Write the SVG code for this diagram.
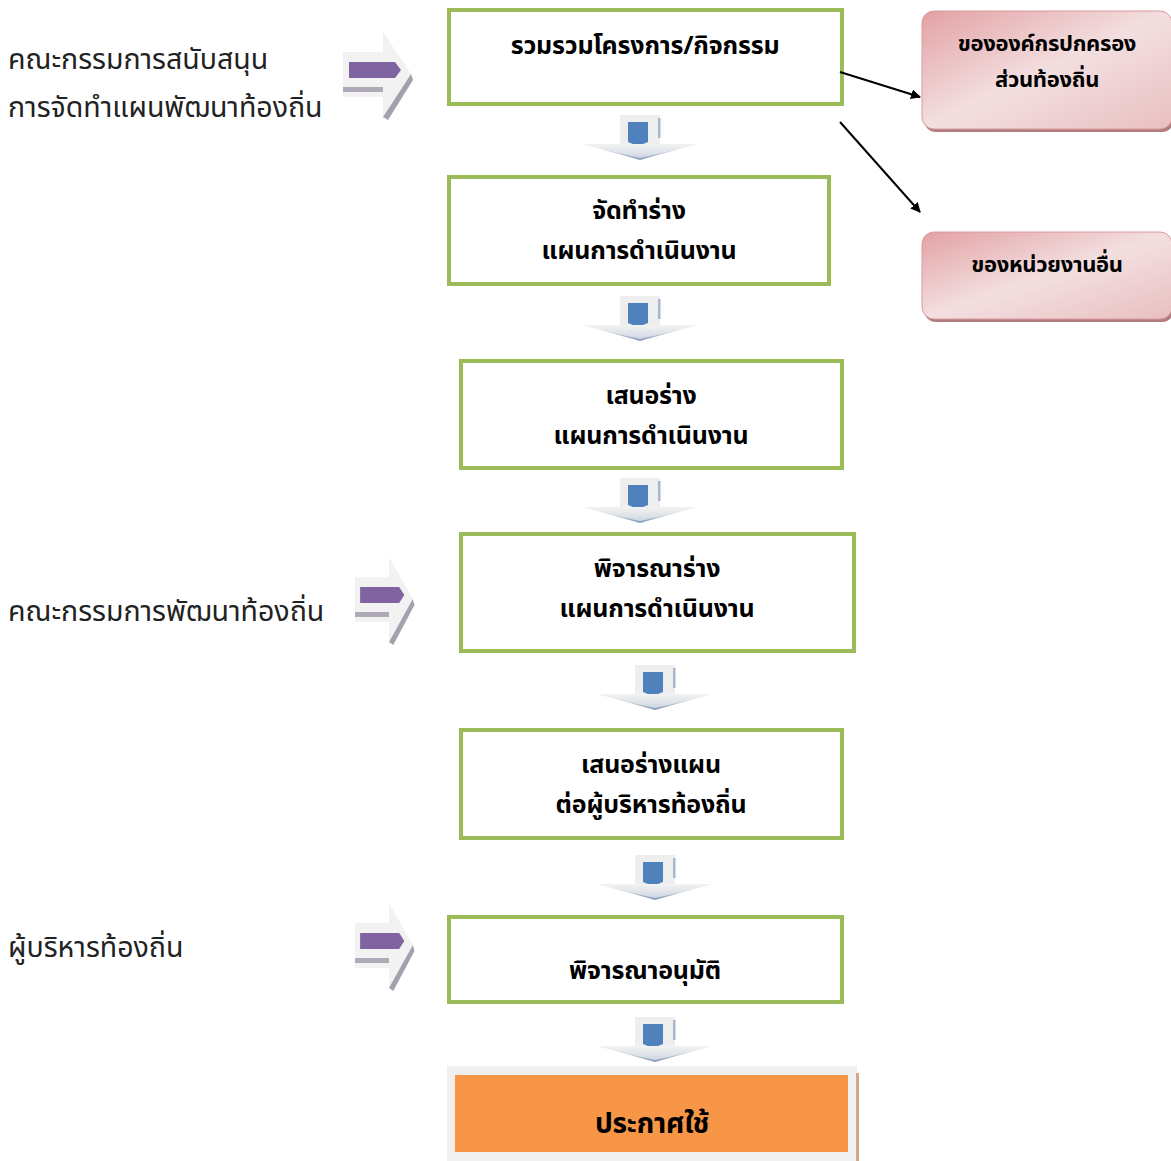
<svg xmlns="http://www.w3.org/2000/svg" width="1171" height="1161" viewBox="0 0 1171 1161">
<defs>
<style>
.box{fill:#fff;stroke:#9BBB59;stroke-width:4}
.bt{font-family:"Noto Sans Thai","Noto Sans","Liberation Sans",sans-serif;font-size:25px;font-weight:bold;fill:#000;text-anchor:middle;letter-spacing:-0.2px}
.lt{font-family:"Noto Sans Thai","Noto Sans","Liberation Sans",sans-serif;font-size:28.5px;fill:#222}
.pt{font-family:"Noto Sans Thai","Noto Sans","Liberation Sans",sans-serif;font-size:22px;font-weight:bold;fill:#000;text-anchor:middle;letter-spacing:-0.3px}
.con{stroke:#000;stroke-width:2;fill:none}
</style>
<linearGradient id="pink" x1="0" y1="0" x2="1" y2="1">
<stop offset="0" stop-color="#e3a1a4"/><stop offset="0.5" stop-color="#f3dfe0"/><stop offset="1" stop-color="#e9bfc1"/>
</linearGradient>
<linearGradient id="chev" x1="0" y1="0" x2="0" y2="1">
<stop offset="0" stop-color="#f2f2f2"/><stop offset="0.6" stop-color="#b8c4d6"/><stop offset="1" stop-color="#8195b3"/>
</linearGradient>
<marker id="ah" markerWidth="10" markerHeight="10" refX="9" refY="5" orient="auto" markerUnits="userSpaceOnUse">
<path d="M0,0 L10,5 L0,10 z" fill="#000"/>
</marker>
<g id="down">
<rect x="-20" y="-3" width="40" height="30" fill="#eeeeee"/>
<rect x="18" y="0" width="2.5" height="20" fill="#a9b7cb"/>
<path d="M-12,4 L8,4 L8,24 L-2,28 L-12,24 z" fill="#4f81bd"/>
<path d="M-57,26 L57,26 L0,42 z" fill="url(#chev)"/>
<path d="M-57,26 L57,26 L53,28 L0,40 L-53,28 z" fill="#f4f4f4" opacity="0.6"/>
</g>
<g id="side">
<path d="M0,20 L40,20 L40,0 L68,42 L40,85 L40,65 L0,65 z" fill="#f2f2f2"/>
<path d="M40,85 L68,42 L70,48 L45,88 z" fill="#a6a0ad"/>
<rect x="0" y="55" width="40" height="5" fill="#b0aab8"/>
<path d="M6,30 L52,30 L58,38 L52,46 L6,46 z" fill="#8064a2"/>
</g>
</defs>
<rect width="1171" height="1161" fill="#fff"/>

<g id="left-labels">
<text class="lt" x="8" y="69">คณะกรรมการสนับสนุน</text>
<text class="lt" x="8" y="117">การจัดทำแผนพัฒนาท้องถิ่น</text>
<text class="lt" x="8" y="621">คณะกรรมการพัฒนาท้องถิ่น</text>
<text class="lt" x="8" y="957">ผู้บริหารท้องถิ่น</text>
</g>

<g id="side-arrows">
<use href="#side" x="343" y="32"/>
<use href="#side" transform="translate(355,557) scale(0.85,1)"/>
<use href="#side" transform="translate(355,903) scale(0.85,1)"/>
</g>

<g id="down-arrows">
<use href="#down" x="640" y="118"/>
<use href="#down" x="640" y="299"/>
<use href="#down" x="640" y="481"/>
<use href="#down" x="655" y="668"/>
<use href="#down" x="655" y="858"/>
<use href="#down" x="655" y="1020"/>
</g>

<g id="n1"><rect class="box" x="449" y="10" width="393" height="94"/><text class="bt" x="645" y="54">รวมรวมโครงการ/กิจกรรม</text></g>
<g id="n2"><rect class="box" x="449" y="177" width="380" height="107"/><text class="bt" x="639" y="219">จัดทำร่าง</text><text class="bt" x="639" y="259">แผนการดำเนินงาน</text></g>
<g id="n3"><rect class="box" x="461" y="361" width="381" height="107"/><text class="bt" x="651" y="404">เสนอร่าง</text><text class="bt" x="651" y="444">แผนการดำเนินงาน</text></g>
<g id="n4"><rect class="box" x="461" y="534" width="393" height="117"/><text class="bt" x="657" y="577">พิจารณาร่าง</text><text class="bt" x="657" y="617">แผนการดำเนินงาน</text></g>
<g id="n5"><rect class="box" x="461" y="730" width="381" height="108"/><text class="bt" x="651" y="773">เสนอร่างแผน</text><text class="bt" x="651" y="813">ต่อผู้บริหารท้องถิ่น</text></g>
<g id="n6"><rect class="box" x="449" y="917" width="393" height="85"/><text class="bt" x="645" y="979">พิจารณาอนุมัติ</text></g>
<g id="n7">
<rect x="447" y="1066" width="410" height="95" fill="#f0f0f0"/>
<rect x="856" y="1073" width="3" height="88" fill="#d4a98a"/>
<rect x="455" y="1075" width="393" height="77" fill="#f79646"/>
<text class="bt" x="652" y="1133" style="font-size:28px">ประกาศใช้</text>
</g>

<g id="p1">
<rect x="924" y="14" width="250" height="118" rx="12" fill="#b07c80"/>
<rect x="922" y="11" width="250" height="118" rx="12" fill="url(#pink)" stroke="#d99a9e" stroke-width="1"/>
<text class="pt" x="1047" y="51">ขององค์กรปกครอง</text>
<text class="pt" x="1047" y="87">ส่วนท้องถิ่น</text>
</g>
<g id="p2">
<rect x="924" y="235" width="250" height="87" rx="12" fill="#b07c80"/>
<rect x="922" y="232" width="250" height="87" rx="12" fill="url(#pink)" stroke="#d99a9e" stroke-width="1"/>
<text class="pt" x="1047" y="272">ของหน่วยงานอื่น</text>
</g>

<g id="connectors">
<line class="con" x1="840" y1="72" x2="920" y2="97" marker-end="url(#ah)"/>
<line class="con" x1="840" y1="122" x2="920" y2="212" marker-end="url(#ah)"/>
</g>
</svg>
